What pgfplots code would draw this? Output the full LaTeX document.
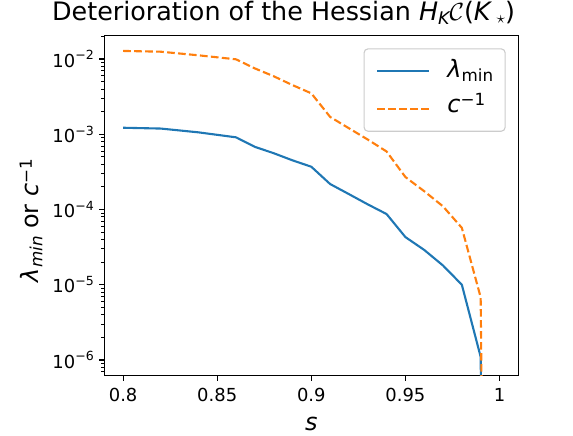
\documentclass[border=0pt]{standalone}
\usepackage{fontspec}
\setmainfont{DejaVu Sans}
\usepackage{pgfplots}
\pgfplotsset{compat=1.18}
\definecolor{mplblue}{HTML}{1F77B4}
\definecolor{mplorange}{HTML}{FF7F0E}
\newcommand{\tl}[1]{10\raisebox{0.42em}{\fontsize{12.6}{13}\selectfont −#1}}
\begin{document}
\begin{tikzpicture}
\useasboundingbox (-104.3bp,-60.3bp) rectangle (468.7bp,375.7bp);
\begin{axis}[
  scale only axis, width=414bp, height=340.4bp,
  xmin=0.79, xmax=1.01,
  ymode=log, ymin=6.18e-7, ymax=2.065e-2,
  tick pos=left, tick align=outside,
  major tick length=5bp, minor tick length=2.8bp,
  every major tick/.append style={line width=1.1bp, black},
  every minor tick/.append style={line width=0.8bp, black},
  axis line style={line width=1.1bp},
  xtick={0.8,0.85,0.9,0.95,1},
  xticklabels={0.8,0.85,0.9,0.95,1},
  ytick={1e-6,1e-5,1e-4,1e-3,1e-2},
  yticklabels={\tl{6},\tl{5},\tl{4},\tl{3},\tl{2}},
  minor ytick={7e-7,8e-7,9e-7,2e-6,3e-6,4e-6,5e-6,6e-6,7e-6,8e-6,9e-6,2e-5,3e-5,4e-5,5e-5,6e-5,7e-5,8e-5,9e-5,2e-4,3e-4,4e-4,5e-4,6e-4,7e-4,8e-4,9e-4,2e-3,3e-3,4e-3,5e-3,6e-3,7e-3,8e-3,9e-3,2e-2},
  xticklabel style={font=\fontsize{18}{20}\selectfont, inner sep=0pt, anchor=north, yshift=-7.6bp},
  yticklabel style={font=\fontsize{18}{20}\selectfont, inner sep=0pt, anchor=east, xshift=-5.3bp},
  title={Deterioration of the Hessian \textit{H}\raisebox{-4bp}{\fontsize{17.5}{20}\selectfont\itshape K}$\mathcal{C}$(\textit{K}\,\raisebox{-3bp}{\fontsize{17.5}{20}\selectfont$\star$})},
  title style={font=\fontsize{25.5}{30}\selectfont, at={(0.4329,1)}, anchor=base, yshift=9.3bp, inner sep=0pt},
  xlabel={\textit{s}},
  xlabel style={font=\fontsize{24}{26}\selectfont, at={(0.5,0)}, anchor=base, yshift=-54.3bp, inner sep=0pt},
  ylabel={\textit{λ}\raisebox{-3.4bp}{\fontsize{16.8}{17}\selectfont\itshape min} or \textit{c}\raisebox{7bp}{\fontsize{16.8}{17}\selectfont −1}},
  ylabel style={font=\fontsize{24}{26}\selectfont, at={(-0.158,0.456)}, anchor=base, inner sep=0pt},
  legend style={at={(0.9696,0.9618)}, anchor=north east, draw=black!20, line width=1.1bp,
    rounded corners=4bp, fill=white, fill opacity=0.8, text opacity=1,
    font=\fontsize{24}{26}\selectfont, inner xsep=12bp, inner ysep=9bp, row sep=4.4bp, column sep=17.3bp,
    nodes={inner sep=0pt, text height=20bp, text depth=10bp}},
  legend cell align=left,
  legend image code/.code={\draw[#1] (0bp,0bp) -- (52bp,0bp);},
]
\addplot[mplblue, line width=2.1bp, line join=round, legend image post style={yshift=1.5bp}] coordinates {
(0.80,1.22e-3)(0.82,1.19e-3)(0.84,1.06e-3)(0.86,9.1e-4)(0.87,6.8e-4)(0.88,5.6e-4)
(0.89,4.5e-4)(0.90,3.7e-4)(0.91,2.18e-4)(0.92,1.6e-4)(0.93,1.17e-4)(0.94,8.7e-5)
(0.95,4.3e-5)(0.96,2.9e-5)(0.97,1.8e-5)(0.98,1.0e-5)(0.99,1.1e-6)(1.00,1e-30)};
\addlegendentry{\textit{λ}\raisebox{-3.4bp}{\fontsize{16.8}{17}\selectfont min}}
\addplot[mplorange, line width=2.1bp, line join=round, dash pattern=on 7.7bp off 3.3bp, legend image post style={yshift=-1.5bp}] coordinates {
(0.80,1.28e-2)(0.82,1.25e-2)(0.84,1.12e-2)(0.86,9.9e-3)(0.87,7.5e-3)(0.88,5.9e-3)
(0.89,4.5e-3)(0.90,3.5e-3)(0.91,1.7e-3)(0.92,1.2e-3)(0.93,8.5e-4)(0.94,5.9e-4)
(0.95,2.7e-4)(0.96,1.75e-4)(0.97,1.1e-4)(0.98,5.7e-5)(0.99,6.8e-6)(1.00,1e-30)};
\addlegendentry{\textit{c}\raisebox{7bp}{\fontsize{16.8}{17}\selectfont −1}}
\end{axis}
\end{tikzpicture}
\end{document}
